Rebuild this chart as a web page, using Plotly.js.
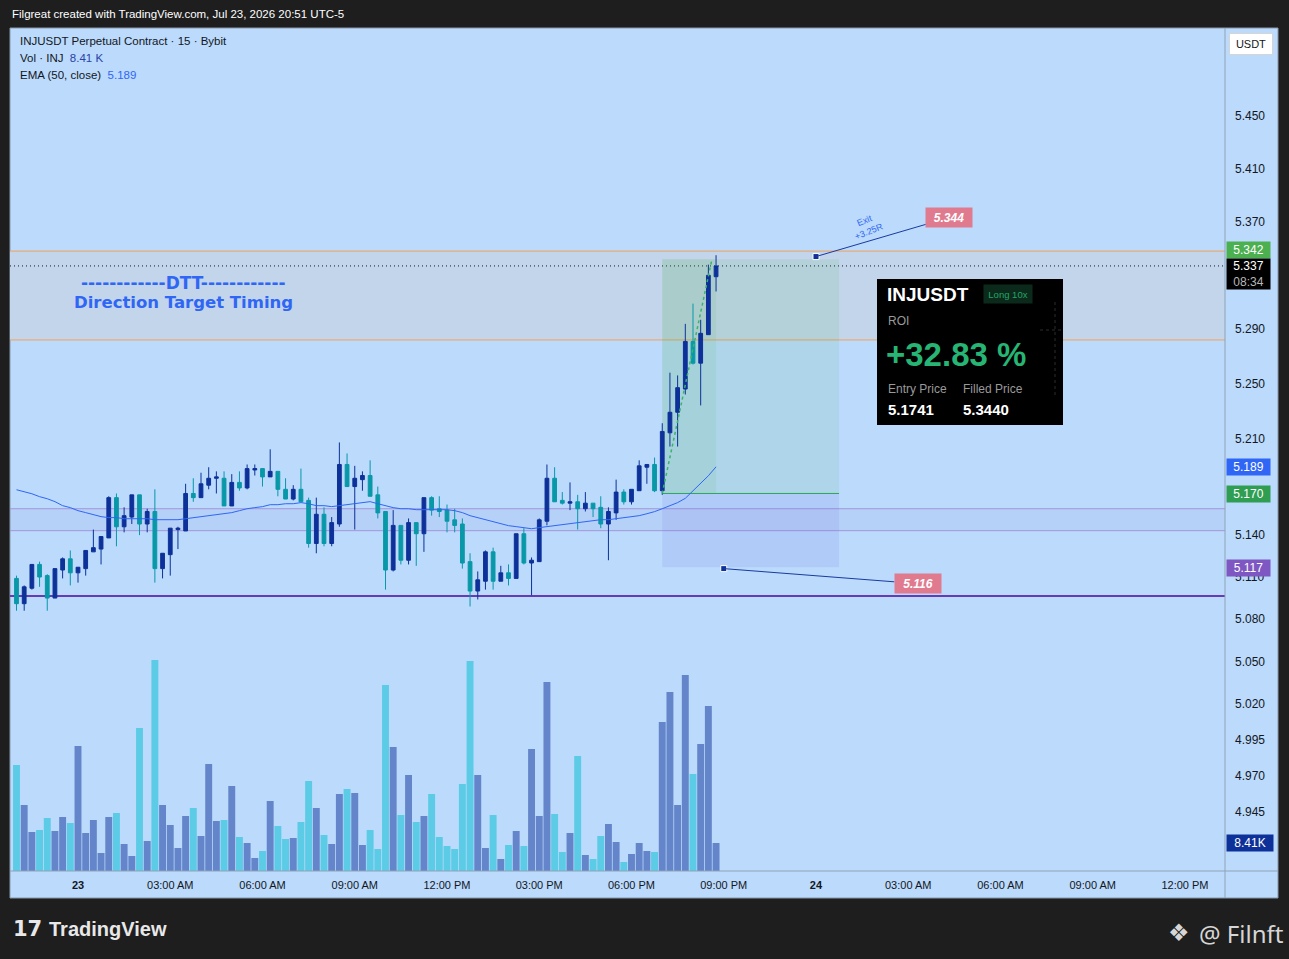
<!DOCTYPE html>
<html>
<head>
<meta charset="utf-8">
<script src="https://cdn.plot.ly/plotly-3.0.1.min.js"></script>
<style>
html,body{margin:0;padding:0;background:#1e1e1e;}
#chart{width:1289px;height:959px;}
</style>
</head>
<body>
<div id="chart"></div>
<script>
// ---------------- DATA ----------------
const startTime = '2026-07-22 22:00';   // first 15-minute bar
const barMinutes = 15;

const openP = [5.109,5.091,5.102,5.119,5.111,5.095,5.115,5.123,5.113,5.116,
5.128,5.130,5.138,5.167,5.146,5.153,5.169,5.148,5.157,5.116,
5.126,5.144,5.143,5.170,5.167,5.176,5.181,5.181,5.161,5.178,
5.174,5.187,5.188,5.182,5.186,5.173,5.166,5.173,5.165,5.134,
5.155,5.134,5.148,5.191,5.175,5.180,5.183,5.169,5.157,5.115,
5.147,5.122,5.149,5.141,5.167,5.159,5.158,5.151,5.148,5.121,
5.100,5.107,5.128,5.107,5.113,5.109,5.141,5.120,5.121,5.150,
5.181,5.165,5.163,5.164,5.159,5.163,5.160,5.148,5.156,5.171,
5.164,5.172,5.189,5.191,5.172,5.214,5.229,5.246,5.281,5.265,
5.286,5.329];
const highP = [5.111,5.104,5.119,5.121,5.112,5.116,5.124,5.129,5.117,5.129,
5.144,5.139,5.168,5.170,5.160,5.169,5.169,5.159,5.173,5.127,
5.145,5.146,5.177,5.181,5.185,5.189,5.186,5.186,5.184,5.186,
5.191,5.191,5.188,5.202,5.186,5.181,5.176,5.188,5.167,5.167,
5.160,5.153,5.207,5.199,5.190,5.186,5.194,5.175,5.157,5.158,
5.147,5.152,5.149,5.167,5.168,5.168,5.162,5.159,5.152,5.127,
5.114,5.129,5.131,5.118,5.119,5.141,5.145,5.124,5.152,5.191,
5.189,5.171,5.178,5.169,5.171,5.163,5.168,5.160,5.180,5.173,
5.173,5.194,5.191,5.196,5.221,5.258,5.256,5.294,5.309,5.297,
5.338,5.345];
const lowP = [5.086,5.086,5.101,5.103,5.086,5.095,5.109,5.104,5.106,5.111,
5.128,5.119,5.138,5.132,5.142,5.148,5.140,5.142,5.106,5.109,
5.111,5.130,5.143,5.164,5.167,5.173,5.170,5.161,5.161,5.172,
5.173,5.183,5.175,5.182,5.168,5.166,5.165,5.164,5.131,5.127,
5.132,5.132,5.146,5.175,5.144,5.172,5.168,5.152,5.101,5.114,
5.119,5.119,5.118,5.128,5.154,5.153,5.142,5.142,5.116,5.089,
5.094,5.101,5.101,5.107,5.104,5.109,5.119,5.097,5.121,5.147,
5.164,5.162,5.158,5.144,5.157,5.153,5.145,5.122,5.151,5.162,
5.162,5.172,5.177,5.171,5.169,5.204,5.204,5.242,5.264,5.234,
5.286,5.318];
const closeP = [5.091,5.103,5.119,5.110,5.095,5.116,5.123,5.113,5.117,5.129,
5.131,5.139,5.167,5.146,5.154,5.169,5.148,5.157,5.116,5.127,
5.145,5.145,5.170,5.167,5.177,5.181,5.182,5.161,5.178,5.174,
5.188,5.188,5.182,5.186,5.173,5.166,5.173,5.164,5.134,5.155,
5.134,5.149,5.191,5.175,5.181,5.183,5.168,5.156,5.115,5.147,
5.122,5.149,5.141,5.167,5.158,5.157,5.150,5.147,5.120,5.100,
5.108,5.128,5.107,5.113,5.109,5.141,5.120,5.122,5.151,5.181,
5.164,5.163,5.164,5.159,5.163,5.159,5.148,5.157,5.171,5.164,
5.173,5.190,5.191,5.172,5.215,5.229,5.247,5.281,5.265,5.287,
5.330,5.337];
const volume = [31800,19800,11700,12300,15900,12000,16200,14400,37500,11400,
15300,5400,16200,17400,8100,4500,42900,9000,63300,19800,
13800,6900,16500,18900,10500,32100,15000,15300,25500,10200,
8400,3900,6000,21000,13500,9600,9900,14700,27000,18900,
10800,8100,23100,24600,23400,7800,12300,6600,55800,37200,
16800,28800,14700,16500,23100,10200,7500,6600,26100,63000,
28800,6900,16800,3600,7800,12000,7500,36600,16500,56700,
17100,5700,11400,34500,4800,3600,10500,14100,8700,2700,
5100,8400,6000,5700,44700,53700,19800,58800,29100,38100,
49500,8410];
const ema50 = [5.1727,5.1713,5.1698,5.1677,5.1662,5.1641,5.1612,5.1598,5.1576,5.1562,
5.1547,5.1533,5.1526,5.1526,5.1518,5.1518,5.1518,5.1518,5.1511,5.1511,
5.1511,5.1511,5.1518,5.1526,5.1533,5.1540,5.1547,5.1554,5.1562,5.1576,
5.1590,5.1598,5.1605,5.1619,5.1619,5.1626,5.1626,5.1634,5.1626,5.1612,
5.1612,5.1605,5.1612,5.1619,5.1626,5.1634,5.1641,5.1626,5.1612,5.1598,
5.1590,5.1590,5.1583,5.1583,5.1583,5.1583,5.1583,5.1576,5.1562,5.1540,
5.1526,5.1511,5.1497,5.1482,5.1468,5.1461,5.1454,5.1446,5.1454,5.1461,
5.1468,5.1475,5.1482,5.1490,5.1497,5.1504,5.1511,5.1511,5.1518,5.1526,
5.1533,5.1540,5.1554,5.1569,5.1590,5.1612,5.1634,5.1665,5.1720,5.1770,
5.1828,5.1893];

// levels & drawing values
const dttTop = 5.3481, dttBottom = 5.2821;
const bandTop = 5.1590, bandBottom = 5.1432;
const supportLine = 5.0965;
const lastPrice = 5.337;
const entryPrice = 5.170, targetPrice = 5.342, stopPrice = 5.117;
const entryTime = '2026-07-23 19:00', positionEnd = '2026-07-24 00:45', filledEnd = '2026-07-23 20:45';
const pathEndTime = '2026-07-23 20:37';
const exitTime = '2026-07-24 00:00', exitPrice = 5.344;
const stopMarkTime = '2026-07-23 21:00', stopMarkPrice = 5.116;
const priceTicks = [4.945,4.970,4.995,5.020,5.050,5.080,5.110,5.140,5.210,5.250,5.290,5.370,5.410,5.450];
const timeTicks = ['2026-07-23 00:00','2026-07-23 03:00','2026-07-23 06:00','2026-07-23 09:00','2026-07-23 12:00','2026-07-23 15:00','2026-07-23 18:00','2026-07-23 21:00','2026-07-24 00:00','2026-07-24 03:00','2026-07-24 06:00','2026-07-24 09:00','2026-07-24 12:00'];
const timeLabels = ['<b>23</b>','03:00 AM','06:00 AM','09:00 AM','12:00 PM','03:00 PM','06:00 PM','09:00 PM','<b>24</b>','03:00 AM','06:00 AM','09:00 AM','12:00 PM'];

// ---------------- BUILD ----------------
const pad = n => (n<10?'0':'')+n;
const times = openP.map((_,i)=>{
  const m = 22*60 + barMinutes*i;
  const d = 22 + Math.floor(m/1440), mm = m % 1440;
  return `2026-07-${d} ${pad(Math.floor(mm/60))}:${pad(mm%60)}`;
});
const UP='#0d3199', DOWN='#0898a8', VUP='#6485ca', VDOWN='#5ccbe6';
const volColors = closeP.map((c,i)=> c>=openP[i]?VUP:VDOWN);
const L = Math.log10;
const PX = px => (px-10)/1215;
const PY = py => (871-py)/843;
const FONT = 'Liberation Sans, Arial, sans-serif';

const traces = [
  {type:'bar', x:times, y:volume, yaxis:'y2', marker:{color:volColors, line:{width:0}}, hoverinfo:'skip', showlegend:false},
  {type:'scatter', mode:'lines', x:times, y:ema50, line:{color:'#2f66f5', width:1}, hoverinfo:'skip', showlegend:false},
  {type:'scatter', mode:'lines', x:[entryTime, pathEndTime], y:[entryPrice, targetPrice], line:{color:'#3bb36a', width:1.5, dash:'dot'}, hoverinfo:'skip', showlegend:false},
  {type:'candlestick', x:times, open:openP, high:highP, low:lowP, close:closeP,
   increasing:{line:{color:UP,width:1}, fillcolor:UP},
   decreasing:{line:{color:DOWN,width:1}, fillcolor:DOWN},
   whiskerwidth:0, hoverinfo:'skip', showlegend:false},
  {type:'scatter', mode:'markers', x:[exitTime, stopMarkTime], y:[exitPrice, stopMarkPrice],
   marker:{symbol:'square', size:6, color:'#0d3199', line:{color:'#ffffff', width:1}}, hoverinfo:'skip', showlegend:false}
];

// shapes referencing the (log) price axis take plain prices
const shapes = [
  {type:'rect', layer:'below', xref:'paper', yref:'paper', x0:0, x1:PX(1278), y0:PY(898), y1:1, fillcolor:'#bbdafc', line:{color:'#8797aa', width:1}},
  {type:'rect', layer:'below', xref:'paper', yref:'y', x0:0, x1:1, y0:dttBottom, y1:dttTop, fillcolor:'#c2d5ea', line:{width:0}},
  {type:'rect', layer:'below', xref:'paper', yref:'y', x0:0, x1:1, y0:bandBottom, y1:bandTop, fillcolor:'rgba(120,110,210,0.08)', line:{width:0}},
  {type:'line', layer:'below', xref:'paper', yref:'y', x0:0, x1:1, y0:bandTop, y1:bandTop, line:{color:'#a397dc', width:1}},
  {type:'line', layer:'below', xref:'paper', yref:'y', x0:0, x1:1, y0:bandBottom, y1:bandBottom, line:{color:'#a397dc', width:1}},
  {type:'rect', layer:'below', xref:'x', yref:'y', x0:entryTime, x1:positionEnd, y0:entryPrice, y1:targetPrice, fillcolor:'rgba(76,175,80,0.11)', line:{width:0}},
  {type:'rect', layer:'below', xref:'x', yref:'y', x0:entryTime, x1:filledEnd, y0:entryPrice, y1:targetPrice, fillcolor:'rgba(76,175,80,0.09)', line:{width:0}},
  {type:'rect', layer:'below', xref:'x', yref:'y', x0:entryTime, x1:positionEnd, y0:stopPrice, y1:entryPrice, fillcolor:'rgba(110,100,225,0.12)', line:{width:0}},
  {type:'line', layer:'below', xref:'x', yref:'y', x0:entryTime, x1:positionEnd, y0:entryPrice, y1:entryPrice, line:{color:'#2ea55a', width:1}},
  {type:'line', layer:'below', xref:'paper', yref:'y', x0:0, x1:1, y0:dttTop, y1:dttTop, line:{color:'#f2a15a', width:1}},
  {type:'line', layer:'below', xref:'paper', yref:'y', x0:0, x1:1, y0:dttBottom, y1:dttBottom, line:{color:'#f2a15a', width:1}},
  {type:'line', layer:'below', xref:'paper', yref:'y', x0:0, x1:1, y0:supportLine, y1:supportLine, line:{color:'#673ab7', width:2}},
  {type:'line', layer:'below', xref:'paper', yref:'y', x0:0, x1:1, y0:lastPrice, y1:lastPrice, line:{color:'#131722', width:1, dash:'1px,3px'}},
  {type:'line', xref:'paper', yref:'paper', x0:0, x1:PX(1278), y0:0, y1:0, line:{color:'#8fa3b8', width:1}},
  {type:'line', xref:'paper', yref:'paper', x0:1, x1:1, y0:PY(898), y1:1, line:{color:'#8fa3b8', width:1}},
  {type:'rect', xref:'paper', yref:'paper', x0:PX(877), x1:PX(1063), y0:PY(425), y1:PY(279), fillcolor:'#000000', line:{width:0}},
  {type:'line', xref:'paper', yref:'paper', x0:PX(1055), x1:PX(1055), y0:PY(395), y1:PY(300), line:{color:'#2c2c2c', width:1, dash:'dot'}},
  {type:'line', xref:'paper', yref:'paper', x0:PX(1040), x1:PX(1062), y0:PY(330), y1:PY(330), line:{color:'#2c2c2c', width:1, dash:'dot'}}
];

function A(px, py, text, o){
  return Object.assign({xref:'paper', yref:'paper', x:PX(px), y:PY(py), text:text, showarrow:false,
    xanchor:'left', yanchor:'middle', font:{family:FONT, size:12, color:'#131722'}}, o||{});
}
function axisLabel(py, text, bg, h){
  return A(1226, py, text, {width:41, height:h||14, align:'center', bgcolor:bg, borderpad:1,
    font:{family:FONT, size:12, color:'#ffffff'}});
}

const annotations = [
  A(10, 14, 'Filgreat created with TradingView.com, Jul 23, 2026 20:51 UTC-5', {font:{family:FONT, size:11.5, color:'#ffffff'}}),
  A(18, 41, 'INJUSDT Perpetual Contract · 15 · Bybit', {font:{family:FONT, size:11.5, color:'#131722'}}),
  A(18, 58, 'Vol · INJ  <span style="color:#2a43a8">8.41 K</span>', {font:{family:FONT, size:11.5, color:'#131722'}}),
  A(18, 75, 'EMA (50, close)  <span style="color:#2f66f5">5.189</span>', {font:{family:FONT, size:11.5, color:'#131722'}}),
  A(183, 283, '<b>------------DTT------------</b>', {xanchor:'center', font:{family:'DejaVu Sans, sans-serif', size:17, color:'#2f66f5'}}),
  A(183, 303, '<b>Direction Target Timing</b>', {xanchor:'center', font:{family:'DejaVu Sans, sans-serif', size:16.5, color:'#2f66f5'}}),
  {xref:'x', yref:'y', x:exitTime, y:L(exitPrice), ax:133, ay:-39, showarrow:true, arrowhead:0, arrowwidth:1, arrowcolor:'#1a3aa0', standoff:0,
   text:'<b><i>5.344</i></b>', bgcolor:'#e07a8f', width:44, height:17, borderpad:1, font:{family:FONT, size:12, color:'#ffffff'}},
  {xref:'x', yref:'y', x:stopMarkTime, y:L(stopMarkPrice), ax:194, ay:15, showarrow:true, arrowhead:0, arrowwidth:1, arrowcolor:'#1a3aa0', standoff:0,
   text:'<b><i>5.116</i></b>', bgcolor:'#e07a8f', width:44, height:17, borderpad:1, font:{family:FONT, size:12, color:'#ffffff'}},
  A(867, 226, 'Exit<br>+3.25R', {xanchor:'center', textangle:-22, font:{family:FONT, size:9, color:'#2f66f5'}}),
  A(885, 294, '<b>INJUSDT</b>', {font:{family:FONT, size:19, color:'#ffffff'}}),
  A(983, 294, 'Long 10x', {width:44, height:14, align:'center', bgcolor:'#0c2a1c', borderpad:2, font:{family:FONT, size:9.5, color:'#23a566'}}),
  A(886, 321, 'ROI', {font:{family:FONT, size:12, color:'#9a9a9a'}}),
  A(884, 354, '<b>+32.83 %</b>', {font:{family:FONT, size:33, color:'#26b574'}}),
  A(886, 389, 'Entry Price', {font:{family:FONT, size:12, color:'#9a9a9a'}}),
  A(961, 389, 'Filled Price', {font:{family:FONT, size:12, color:'#9a9a9a'}}),
  A(886, 409, '<b>5.1741</b>', {font:{family:FONT, size:15, color:'#ffffff'}}),
  A(961, 409, '<b>5.3440</b>', {font:{family:FONT, size:15, color:'#ffffff'}}),
  A(1229, 44, 'USDT', {width:40, height:18, align:'center', bgcolor:'#ffffff', bordercolor:'#d5d5d5', borderwidth:1, borderpad:1, font:{family:FONT, size:11, color:'#131722'}}),
  axisLabel(250.5, '5.342', '#4caf50'),
  axisLabel(274, '5.337<br><span style="color:#b8b8b8">08:34</span>', '#000000', 28),
  axisLabel(467, '5.189', '#2f66f5'),
  axisLabel(494, '5.170', '#2f9e52'),
  axisLabel(568, '5.117', '#7e57c2'),
  A(1226, 843, '8.41K', {width:44, height:14, align:'center', bgcolor:'#0d3199', borderpad:1, font:{family:FONT, size:12, color:'#ffffff'}}),
  A(11, 929, '<b>17</b>', {font:{family:'DejaVu Sans, sans-serif', size:21, color:'#e8e8e8'}}),
  A(47, 929, '<b>TradingView</b>', {font:{family:FONT, size:20, color:'#e8e8e8'}}),
  A(1166, 933, '❖', {font:{family:'DejaVu Sans, sans-serif', size:24, color:'#d6d6d6'}}),
  A(1197, 933, '@ Filnft', {font:{family:'Noto Sans, sans-serif', size:24, color:'#d6d6d6'}})
];

const layout = {
  width:1289, height:959,
  margin:{l:10, r:64, t:28, b:88, autoexpand:false},
  paper_bgcolor:'#1e1e1e', plot_bgcolor:'#bbdafc',
  showlegend:false, bargap:0.1, dragmode:false,
  font:{family:FONT, color:'#131722'},
  xaxis:{type:'date', range:['2026-07-22 21:47:19','2026-07-24 13:18:04'], rangeslider:{visible:false},
    tickmode:'array', tickvals:timeTicks, ticktext:timeLabels, showgrid:false, zeroline:false, showline:false,
    ticks:'', tickfont:{family:FONT, size:11, color:'#131722'}, ticklabelstandoff:6, fixedrange:true},
  yaxis:{type:'log', side:'right', range:[L(4.90435), L(5.51743)], tickmode:'array', tickvals:priceTicks,
    ticktext:priceTicks.map(v=>v.toFixed(3)), showgrid:false, zeroline:false, showline:false, ticks:'',
    tickfont:{family:FONT, size:12, color:'#131722'}, ticklabelstandoff:9, fixedrange:true},
  yaxis2:{overlaying:'y', range:[0, 252900], visible:false, fixedrange:true},
  shapes:shapes, annotations:annotations
};

Plotly.newPlot('chart', traces, layout, {displayModeBar:false, staticPlot:true});
</script>
</body>
</html>
